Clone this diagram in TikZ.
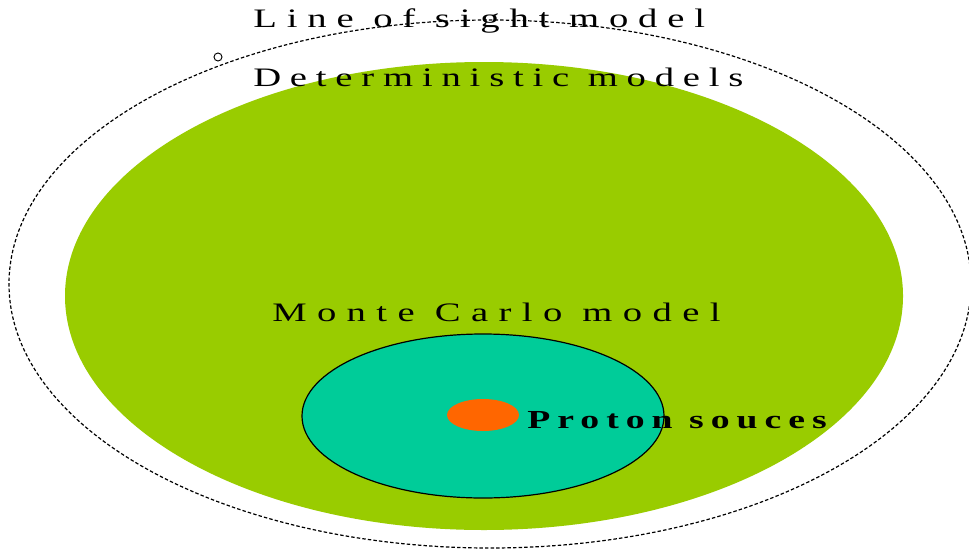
\documentclass[tikz,border=0pt]{standalone}
\usepackage{fontspec}
\setmainfont{Liberation Serif}
\newfontfamily\spacedA[LetterSpace=37,FakeStretch=1.45]{Liberation Serif}
\newfontfamily\spacedB[LetterSpace=33,FakeStretch=1.45]{Liberation Serif}
\newfontfamily\spacedC[LetterSpace=39,FakeStretch=1.45]{Liberation Serif}
\newfontfamily\spacedD[LetterSpace=27,FakeStretch=1.45]{Liberation Serif Bold}
\definecolor{detgreen}{HTML}{99CC00}
\definecolor{mcteal}{HTML}{00CC99}
\definecolor{protorange}{HTML}{FF6600}
\tikzset{
  lbl/.style={anchor=base west, inner sep=0pt},
}
\begin{document}
\begin{tikzpicture}[x=0.75pt,y=-0.75pt]
\useasboundingbox (0,0) rectangle (969,553);
\fill[white] (0,0) rectangle (969,553);
% line of sight (dashed outer)
\draw[black, line width=0.9pt, dash pattern=on 2.6pt off 1.6pt] (490,284) ellipse [x radius=481, y radius=264];
% small circle
\draw[black, fill=white, line width=0.7pt] (218,57) circle [radius=4];
% deterministic
\fill[detgreen] (484,296) ellipse [x radius=419, y radius=234];
% monte carlo
\draw[black, fill=mcteal, line width=0.9pt] (483,416) ellipse [x radius=181, y radius=82];
% proton
\fill[protorange] (483,415) ellipse [x radius=36, y radius=16];
% labels
\node[lbl, font=\fontsize{20}{24}\spacedA] (los) at (253,27) {Line of sight model};
\node[lbl, font=\fontsize{20}{24}\spacedB] (det) at (253,86) {Deterministic models};
\node[lbl, font=\fontsize{20}{24}\spacedC] (mc) at (272,321) {Monte Carlo model};
\node[lbl, font=\fontsize{19.5}{22}\spacedD] (pr) at (527,428) {Proton souces};
\end{tikzpicture}
\end{document}
